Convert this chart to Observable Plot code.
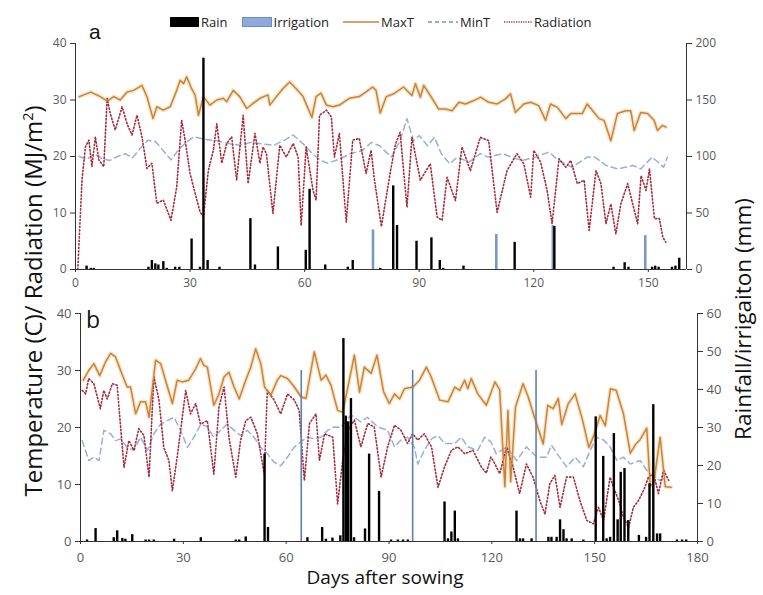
<!DOCTYPE html>
<html><head><meta charset="utf-8">
<script src="https://cdn.jsdelivr.net/npm/d3@7"></script>
<script src="https://cdn.jsdelivr.net/npm/@observablehq/plot@0.6"></script>
<style>
body{margin:0;background:#fff;}
#wrap{position:relative;width:763px;height:595px;font-family:"Open Sans",sans-serif;overflow:hidden;background:#fff;}
.abs{position:absolute;white-space:nowrap;}
#legend{position:absolute;left:170px;top:13px;display:flex;align-items:center;font-family:"Liberation Sans Narrow","Open Sans",sans-serif;font-size:13px;color:#222;}
#legend span{margin-right:14px;}
#legend svg{margin-right:2px;}
</style></head><body><div id="wrap"></div>
<script>
// ---------- DATA ----------
const legendLabels = ["Rain","Irrigation","MaxT","MinT","Radiation"];
// Panel a
const aMaxT = [[1,30.6],[4,31.4],[6.5,30.6],[8.3,29.8],[10,30.6],[11.7,30],[13.5,31.4],[15.2,31.7],[17.4,32.6],[18.7,30.6],[20.3,26.7],[21.3,28.8],[23,28.2],[24.8,28.8],[26.5,31.7],[27.4,33.5],[28.3,32.9],[29.1,34.1],[30.4,32],[31.3,30.9],[32.2,27.3],[33.5,30.6],[35.2,29.1],[37,30],[38.7,30.3],[39.6,29.7],[41.3,31.7],[43,30.6],[44.8,28.5],[46.5,29.4],[48.3,30.3],[50.4,30.9],[50.9,29.1],[52.6,30.6],[54.3,32],[56.1,33.2],[57.8,32],[59.6,30.6],[61.9,26.9],[63,30.6],[64.3,31.2],[65.7,29.1],[67.4,28.8],[69.1,29.1],[71.7,30.3],[74.3,30.6],[76,31.4],[77.8,32.3],[78.7,31.7],[79.8,27.7],[81.4,30.6],[83.3,31.1],[85.9,32.3],[88.1,30.8],[89,32.9],[90.3,30.5],[91.2,32.6],[92.9,30.8],[95.1,28.4],[96.9,28.4],[98.6,28.1],[100.4,29.6],[102.1,29.3],[104.3,29.9],[106.1,30.5],[108.2,29.6],[110.4,29.3],[112.6,30.2],[113.9,31.1],[115.2,27.8],[117.4,29.3],[119.2,29.6],[121.3,29],[123.1,26.4],[124.4,29.3],[126.2,28.7],[128.4,26.7],[129.7,27.6],[132.7,27.6],[134,29.3],[135.8,27.8],[137.1,26.7],[138.4,26.4],[140.2,22.8],[141.9,27.6],[144.1,28.1],[145.4,28.1],[146.3,24.6],[148,27.8],[149.8,27.6],[151.5,26.4],[152.4,24.6],[153.7,25.5],[154.6,25.2]];
const aMinT = [[1,20],[3,19.5],[5,20.5],[7,19.6],[9,19.3],[11,20],[13,20.5],[15,19.8],[17,21.5],[19,22.9],[21,22.6],[23,21],[25,19.4],[27,21.2],[29,22.5],[31,23.5],[34,23],[37,22.8],[40,22.3],[43,22],[46,22.5],[49,22.2],[52,22],[55,23],[57,23.8],[60,22],[62,20.5],[64,19.4],[66,18.8],[69,19.5],[72,20.5],[75,21],[77.5,22.5],[79.6,21.9],[82.7,19.9],[85,22.8],[86.8,26.7],[88.5,22.8],[90,23.7],[92.2,21.9],[94,23.4],[95.8,20.5],[98,18.7],[100,19.9],[103,19],[106,20.5],[108,19.9],[112,20.5],[114,19.9],[117,19.3],[120.5,19.9],[124,20.8],[126.5,19.3],[130,18.1],[134,19.9],[136,19.9],[139,18.4],[142,17.8],[146,18.4],[148,17.8],[151,19.9],[154,18.1],[155,19.9]];
const aRad = [[0.6,0],[1.7,15.8],[2.6,21.7],[3.5,22.9],[4.3,18.2],[5.2,23.5],[6.1,19.4],[7.4,18.2],[8.3,30.3],[9.1,27.6],[10.4,24.7],[12.2,28.8],[13.5,25.8],[14.8,23.8],[16.1,27.3],[17.4,23.5],[18.7,17.9],[20,18.8],[21.3,11.7],[23,12.3],[25,8.7],[26.5,14.6],[27.8,26.4],[28.7,22.9],[30,17],[30.9,14.6],[32.6,10.2],[33.5,9.3],[34.8,17.6],[36.1,21.1],[37,25.8],[38.3,18.8],[39.6,22.3],[40.9,23.5],[42.2,15.8],[43.9,27.3],[45.2,15.2],[47,24.1],[48.3,18.8],[49.1,21.7],[50,20.5],[51.7,9.9],[53.5,22],[55.2,19.9],[57,22.3],[58.3,19.9],[59.1,7.8],[60.4,21.7],[62.2,14],[63,12.3],[63.9,27.3],[65.7,28.2],[67,27],[67.8,19.9],[69.1,24.1],[70.9,8.4],[72.6,22.9],[74.3,23.2],[76.1,17],[77.4,21.1],[78.3,15.8],[80.1,7.6],[82.5,17.5],[83.8,22.2],[85,24.3],[86.8,11],[88.1,23.4],[90.3,15.8],[92.9,18.7],[94.7,9.3],[96,8.7],[97.3,16.3],[99.5,12.2],[101.2,21.7],[103.4,17.5],[106,23.4],[108.2,22.8],[110.4,10.1],[113,17.5],[115.6,20.5],[117.4,18.7],[119.2,12.8],[120,21.1],[121.8,19],[123.5,14],[124.8,8.1],[126.6,19.6],[128.4,18.1],[129.7,19.3],[131.4,15.2],[133.2,15.8],[134.5,6.9],[136.3,17.5],[137.6,15.2],[138.9,8.1],[140.2,11.6],[141.5,6.3],[142.8,11.6],[144.6,15.2],[147.2,8.1],[148.1,16.6],[149.4,14],[150.3,17.8],[151.6,9],[152.9,9],[153.8,5.7],[154.6,4.8]];
const aRain = [[2.9,3],[4,1],[4.8,1],[19.1,2],[20,8],[20.9,5],[21.7,4],[23,7],[23.9,1],[26.1,2],[27.2,2],[30.4,27],[32.6,2],[33.5,187],[34.6,8],[37.7,2],[45.8,45],[47,4],[53,20],[60.3,17],[61.3,71],[65.4,4],[71.3,2],[72.6,8],[79.8,1],[83.2,74],[84.2,39],[89.3,25],[93.2,28],[95.4,8],[96.3,1],[101.6,3],[115,24],[125.4,38],[140.9,2],[143.8,6],[144.8,2],[151,2],[151.8,3],[152.7,2],[156.2,2],[157.1,3],[158.1,10]];
const aIrr = [[77.9,35],[110.2,31],[125,39],[149.2,30]];
// Panel b
const bMaxT = [[0.8,28.3],[2.4,30],[3.9,31.2],[5.6,29.1],[7.3,31.5],[8.8,33],[10.2,32.4],[11.7,30],[13.6,27.1],[14.6,27.1],[16.1,22.4],[17.5,24.5],[19,24.5],[20,21.8],[21.9,31.8],[23.4,31.2],[24.8,28.3],[26.8,24.2],[28.2,28.3],[29.7,28],[31.6,28.3],[33.6,30.3],[35,32.1],[36,30.9],[37,30.6],[38.9,23.9],[40.4,25.9],[41.9,28.9],[43.3,29.7],[44.8,27.1],[46.3,25],[48.2,28.3],[49.7,30.6],[51.1,33.8],[52.6,31.2],[53.7,27.1],[55.5,25.6],[57.4,28.3],[58.4,29.1],[60.4,28.6],[62.4,27.1],[64.3,25.4],[65.8,25.1],[68.2,33.3],[70.2,28.3],[71.6,29.2],[73.1,27.4],[75,23],[76.5,22.7],[78,27.1],[79.9,32.7],[81.4,26.2],[82.8,30.6],[84.8,29.5],[86.5,32.7],[88.4,26.3],[90.1,24.2],[91.6,25.9],[93.1,25],[94.5,26.8],[97,27.1],[98.9,28.3],[100.9,30.6],[102.3,28.9],[104.8,24.8],[107.2,24.5],[109.2,27.1],[110.6,26.5],[112.1,28.3],[113,26.8],[114,28.6],[115.9,25.9],[118.4,23.9],[120.9,28],[122.3,26.6],[123.8,9.6],[124.7,23],[125.5,10.5],[126.9,23.6],[129.1,27.7],[130.6,25.4],[132.6,21.5],[135,17.1],[136.3,23.9],[137.9,23.3],[139.4,25.1],[140.4,20.5],[142.3,24.2],[144.3,25.9],[146.5,21.2],[148.3,16.5],[150,19],[151.6,22.1],[153.1,20.3],[154.6,26.8],[156.3,26.5],[158.4,22.4],[160.4,15.5],[161.9,17],[163.3,17.9],[165.2,19.9],[166.2,9.8],[167.2,10.1],[169.1,18.3],[170.6,9.6],[172.3,9.5]];
const bMinT = [[0.5,17.7],[2.4,14.2],[3.9,14.8],[5.4,14.2],[6.8,19.5],[8.8,18.9],[10.2,17.7],[11.7,18],[13.6,16.5],[15.6,16],[17.5,18.3],[19.5,16],[21.4,18.9],[23.4,20.6],[25.3,21.2],[27.3,21.8],[29.2,19.5],[31.2,16.5],[33.1,18.3],[35.1,20.6],[37,20.1],[38.9,18.3],[40.9,19.5],[42.8,20.6],[44.8,19.5],[46.7,18.6],[48.7,19.5],[50.6,18.3],[52.6,16.5],[54.5,15.4],[56.5,13.9],[58.4,13.3],[60.4,14.8],[62.3,16.5],[64.3,17.5],[66.2,18.3],[68.2,18],[70.1,18.3],[72.1,19.5],[74,20.1],[75.9,20],[78.9,22.2],[81.8,21],[83.7,21.8],[86.7,20.1],[89.6,19.5],[91.6,16.6],[93.5,17.8],[95.4,18.3],[97.4,16.6],[98.4,13.6],[100.3,16],[102.4,18],[104.3,18.6],[106.2,17.2],[109.2,17.2],[111.1,18.3],[113,16.6],[115.9,16],[117.9,18.3],[119.7,17.5],[121.3,15.4],[124.3,16.6],[127.2,14.2],[130.1,16.6],[133.1,14.8],[136,14.8],[137.4,16.9],[139.4,15.1],[141.8,13.1],[144.3,14.8],[146.7,13.1],[148.7,16],[150.6,18.3],[152.6,17.8],[154.5,16.6],[156.5,14.2],[158.4,14.8],[160.4,13.6],[163.3,14.2],[165.2,12.5],[167.2,11.3],[169.1,10.7],[171.1,11.3]];
const bRad = [[0.5,26.5],[1.5,25.9],[2.4,28.6],[3.9,27.7],[5.8,23.3],[6.8,26.5],[7.8,25],[9.3,27.7],[10.7,27.4],[11.7,20.1],[12.7,13],[14.1,17.7],[15.6,16],[17,19.8],[18.5,18.6],[20,11.3],[21.4,28.9],[22.9,24.8],[24.3,16.5],[25.8,14.2],[26.8,8.9],[28.2,14.8],[30.7,26.5],[32.1,22.4],[33.6,24.2],[35,20.6],[37,21.2],[38.9,11.8],[40.4,23.6],[41.9,27.1],[43.3,18.3],[45.3,11.3],[46.7,17.7],[48.2,21.2],[49.7,21.8],[51.6,18.9],[53.6,11.8],[54.5,26.5],[56.5,24.8],[58.4,22.4],[60.4,25.9],[62.4,24.8],[63.8,23],[65.3,10.7],[66.8,20.7],[68.7,22.4],[69.7,14.2],[71.2,18.9],[73.6,18.3],[75,6.6],[76.5,14.2],[78,19.5],[79.9,21.3],[81.8,16.6],[83.8,20.7],[85.7,20.1],[87.7,11.3],[89.6,16.6],[91.6,20.4],[93.5,19.5],[95.4,17.2],[96.9,18.9],[98.4,17.8],[100.3,18.9],[102.4,16.6],[104.3,9.5],[106.2,13.1],[108.2,16],[110.1,16.6],[112.1,15.4],[114.5,16],[116.9,13.1],[118.4,12],[119.7,14.8],[120.4,14.2],[122.3,11.9],[124.3,16.6],[126.2,13.1],[128.1,8.4],[130.1,13.6],[132,11.3],[134,7.2],[135.5,4.8],[136.9,10.1],[138.4,11.6],[139.9,6],[141.8,11.3],[143.8,11.3],[145.7,7.2],[147.7,3.7],[149.6,3.1],[151.1,6],[152.6,3.7],[154.5,11.3],[155.5,9.5],[157,7.2],[158.4,4.3],[159.9,2.5],[161.3,6],[162.8,7.2],[164.3,9],[165.7,11.3],[167.2,11.9],[168.6,8.4],[170.1,12.5],[171.6,10.7]];
const bRain = [[1.9,0.4],[4.4,3.4],[9.7,1],[10.7,2.8],[12.2,0.8],[13.1,0.6],[15.1,1.8],[19,0.4],[20,0.4],[21.4,0.4],[27.3,0.6],[35.1,1],[45.3,0.4],[46.3,0.4],[48.2,1.2],[53.7,23],[54.7,3.7],[66.2,1],[70.5,3.7],[71.6,0.6],[73.5,0.9],[75.8,1.5],[76.7,53.4],[77.4,33],[78.1,31.5],[78.9,37.6],[79.8,1],[83,3.3],[84.2,23],[87.1,13.2],[90.6,0.4],[92.6,0.4],[94.1,0.4],[95.5,0.4],[106.2,10.4],[107.2,0.7],[108.2,2.5],[109.2,8],[110.1,0.7],[127.2,8],[128.2,0.7],[129.1,0.7],[131.6,0.7],[136.5,1.1],[137.4,1.1],[138.9,1.1],[139.9,5.7],[140.9,3.1],[141.8,0.7],[143.3,0.7],[146.7,0.4],[150.3,32.8],[152.5,22.4],[153.5,0.7],[154.5,1.1],[155.6,28.4],[156.7,5.7],[157.6,18.2],[158.7,19.2],[159.8,5.5],[162.9,1.6],[165,1.1],[166,15.2],[167.1,36],[168.2,2],[169.1,2],[174,0.4],[175.5,0.4],[176.7,0.4]];
const bIrr = [[64.4,45],[96.9,45],[132.9,45]];
// axes
const aXTicks = [0,30,60,90,120,150];
const bXTicks = [0,30,60,90,120,150,180];
const tempTicks = [0,10,20,30,40];
const aRainTicks = [0,50,100,150,200];
const bRainTicks = [0,10,20,30,40,50,60];

// ---------- STYLE ----------
const C = {max:"#C8843A", maxGlow:"#F2C88E", min:"#98B0D4", rad:"#A52A3C", rain:"#000", axis:"#333", text:"#595959"};
const wrap = document.getElementById("wrap");

function place(el, top){ el.style.position="absolute"; el.style.left="0px"; el.style.top=top+"px"; wrap.appendChild(el); }

function panel(o){
  const common = {width:763, height:o.height, marginTop:o.mt, marginBottom:o.mb, marginLeft:o.ml, marginRight:o.mr};
  const xy = d=>d[0], yy = d=>d[1];
  const base = Plot.plot({...common,
    style:{background:"transparent", fontFamily:"'Open Sans',sans-serif", fontSize:o.fs+"px", color:C.text},
    x:{domain:[0,o.xmax]}, y:{domain:[0,40]},
    marks:[
      Plot.line(o.maxT,{x:xy,y:yy,stroke:C.maxGlow,strokeWidth:4,strokeOpacity:0.5}),
      Plot.line(o.minT,{x:xy,y:yy,stroke:C.min,strokeWidth:1.5,strokeDasharray:"6,4"}),
      Plot.line(o.rad,{x:xy,y:yy,stroke:C.rad,strokeWidth:1.6,strokeDasharray:"1.3,2.2"}),
      Plot.line(o.maxT,{x:xy,y:yy,stroke:C.max,strokeWidth:1.5}),
      Plot.axisX({ticks:o.xticks, tickSize:3, tickPadding:o.xpad, tickFormat:d=>String(d), label:null, stroke:C.axis}),
      Plot.axisY({ticks:tempTicks, tickSize:5, tickPadding:4, tickFormat:d=>String(d), label:null, stroke:C.axis}),
      Plot.ruleY([0],{stroke:C.axis}),
      Plot.ruleX([0],{stroke:C.axis})
    ]});
  const over = Plot.plot({...common,
    style:{background:"transparent", fontFamily:"'Open Sans',sans-serif", fontSize:o.fs+"px", color:C.text},
    x:{domain:[0,o.xmax], axis:null}, y:{domain:[0,o.rmax]},
    marks:[
      Plot.ruleX(o.irr,{x:xy,y1:0,y2:yy,stroke:o.irrColor,strokeWidth:o.irrW}),
      Plot.ruleX(o.rain,{x:xy,y1:0,y2:yy,stroke:C.rain,strokeWidth:2.4}),
      Plot.axisY({anchor:"right", ticks:o.rticks, tickSize:5, tickPadding:4, tickFormat:d=>String(d), label:null, stroke:C.axis}),
      Plot.ruleX([o.xmax],{stroke:C.axis})
    ]});
  place(base,o.top); place(over,o.top);
}

panel({top:30,height:260,mt:13,mb:21,ml:75,mr:77,xmax:160,xticks:aXTicks,fs:12,xpad:6,
  maxT:aMaxT,minT:aMinT,rad:aRad,rain:aRain,irr:aIrr,rmax:200,rticks:aRainTicks,irrColor:"#7A98C8",irrW:2.6});
panel({top:300,height:270,mt:13,mb:29,ml:80,mr:66,xmax:180,xticks:bXTicks,fs:13,xpad:8,
  maxT:bMaxT,minT:bMinT,rad:bRad,rain:bRain,irr:bIrr,rmax:60,rticks:bRainTicks,irrColor:"#5E80AC",irrW:1.6});

// ---------- TEXT ----------
function txt(html, css){ const d=document.createElement("div"); d.className="abs"; d.innerHTML=html; Object.assign(d.style,css); wrap.appendChild(d); return d; }
txt("a",{left:"89px",top:"20px",fontFamily:"'Liberation Sans',Arial,sans-serif",fontSize:"21px",color:"#111"});
txt("b",{left:"86px",top:"303px",fontFamily:"'Open Sans',sans-serif",fontSize:"23px",color:"#111"});
txt("Days after sowing",{left:"285px",width:"200px",textAlign:"center",top:"564px",fontSize:"19px",color:"#111"});
txt("Temperature (C)/ Radiation (MJ/m<sup style='font-size:0.6em'>2</sup>)",{left:"-252px",width:"560px",textAlign:"center",top:"285px",height:"32px",lineHeight:"32px",fontSize:"24px",color:"#111",transform:"rotate(-90deg)"});
txt("Rainfall/irrigaiton (mm)",{left:"463px",width:"560px",textAlign:"center",top:"303px",height:"32px",lineHeight:"32px",fontSize:"22.5px",color:"#111",transform:"rotate(-90deg)"});

// legend
const lg = document.createElement("div"); lg.id="legend"; wrap.appendChild(lg);
const sw = [
  `<svg width="29" height="12"><rect x="0" y="1" width="29" height="10" fill="#000"/></svg>`,
  `<svg width="30" height="12"><rect x="0.5" y="1.5" width="29" height="9" fill="#8EA9DB" stroke="#6C8CC4"/></svg>`,
  `<svg width="36" height="12"><line x1="0" x2="36" y1="6" y2="6" stroke="${C.max}" stroke-width="1.5"/></svg>`,
  `<svg width="30" height="12"><line x1="0" x2="30" y1="6" y2="6" stroke="#7F8FA8" stroke-width="1.3" stroke-dasharray="4,3"/></svg>`,
  `<svg width="28" height="12"><line x1="0" x2="28" y1="6" y2="6" stroke="${C.rad}" stroke-width="1.4" stroke-dasharray="1.2,1.2"/></svg>`
];
legendLabels.forEach((l,i)=>{ lg.insertAdjacentHTML("beforeend", sw[i] + `<span>${l}</span>`); });
</script></body></html>
